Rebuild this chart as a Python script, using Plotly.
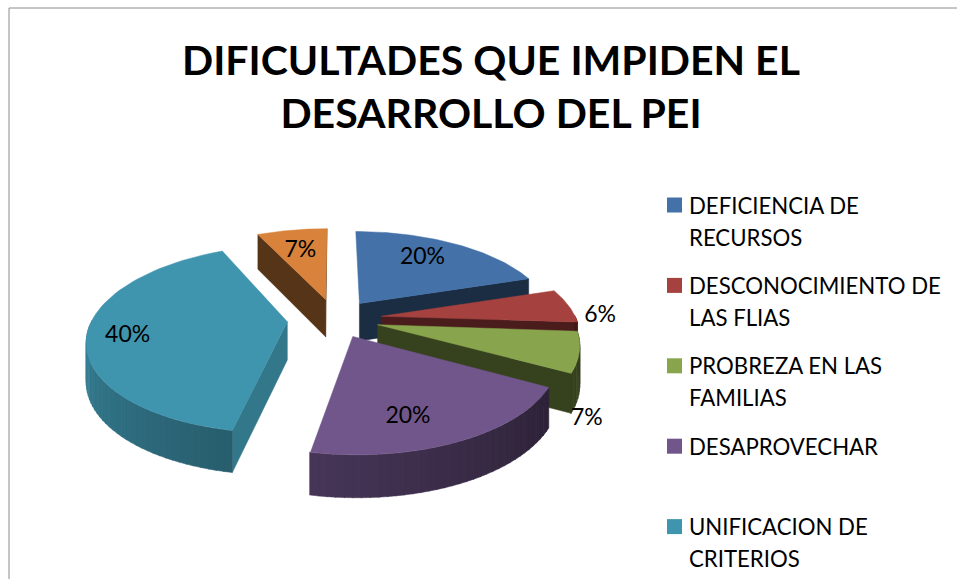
import math
import plotly.graph_objects as go

# ---- data ----
categories = ["DEFICIENCIA DE<br>RECURSOS", "DESCONOCIMIENTO DE<br>LAS FLIAS",
              "PROBREZA EN LAS<br>FAMILIAS", "DESAPROVECHAR", "UNIFICACION DE<br>CRITERIOS", ""]
values = [20, 6, 7, 20, 40, 7]
labels = ["20%", "6%", "7%", "20%", "40%", "7%"]
title = "DIFICULTADES QUE IMPIDEN EL<br>DESARROLLO DEL PEI"

# ---- style ----
colors = ["#4371A8", "#A5423F", "#88A44C", "#71568B", "#4095AE", "#D8823B"]
explode = [0.22, 0.24, 0.225, 0.207, 0.245, 0.23]
label_r = [0.70, 1.13, 1.22, 0.76, 0.80, 0.66]
label_turn = [-3, 7, 29, 8, -4, -1]
cut_shade = [0.40, 0.45, 0.40, 0.40, 0.80, 0.40]
draw_order = [5, 0, 4, 1, 2, 3]
FONT = "Lato"
CX, CY, RX, RY, DEPTH, PERSP = 335, 319, 195, 90, 38, 0.18


def project(theta, r, e, mid, h=0.0):
    x = r * math.sin(theta) + e * math.sin(mid)
    w = r * math.cos(theta) + e * math.cos(mid)
    f = 1 / (1 + PERSP * w)
    return CX + f * x * RX, CY - f * w * RY + math.sqrt(f) * h * DEPTH


def shade(color, k):
    rgb = [int(color[i:i + 2], 16) for i in (1, 3, 5)]
    return "rgb(%d,%d,%d)" % tuple(min(255, int(c * k)) for c in rgb)


def poly(fig, pts, color):
    xs, ys = zip(*pts)
    fig.add_trace(go.Scatter(x=list(xs) + [xs[0]], y=list(ys) + [ys[0]], mode="lines", fill="toself",
                             fillcolor=color, line=dict(color=color, width=0.5),
                             hoverinfo="skip", showlegend=False))


total = sum(values)
starts, acc = [], 0
for v in values:
    starts.append(acc / total * 2 * math.pi)
    acc += v

fig = go.Figure()
label_x, label_y = [0] * 6, [0] * 6
for i in draw_order:
    a0 = starts[i]
    a1 = a0 + values[i] / total * 2 * math.pi
    mid, e, col = (a0 + a1) / 2, explode[i], colors[i]
    # radial cut faces that look towards the viewer
    for ang, sgn in ((a0, -1), (a1, 1)):
        if sgn * math.sin(ang) > 0:
            poly(fig, [project(ang, 0, e, mid), project(ang, 1, e, mid),
                       project(ang, 1, e, mid, 1), project(ang, 0, e, mid, 1)], shade(col, cut_shade[i]))
    # outer rim, in shaded strips
    n = max(2, int((a1 - a0) / math.radians(2)))
    for k in range(n):
        t0 = a0 + (a1 - a0) * k / n
        t1 = a0 + (a1 - a0) * (k + 1.1) / n
        tm = (t0 + t1) / 2
        if math.cos(tm) < 0:
            s = min(0.95, max(0.4, 0.4 + 0.0032 * (math.degrees(tm) - 119)))
            poly(fig, [project(t0, 1, e, mid), project(t1, 1, e, mid),
                       project(t1, 1, e, mid, 1), project(t0, 1, e, mid, 1)], shade(col, s))
    # top face
    steps = 60
    top = [project(a0, 0, e, mid)] + [project(a0 + (a1 - a0) * k / steps, 1, e, mid) for k in range(steps + 1)]
    poly(fig, top, col)
    label_x[i], label_y[i] = project(mid + math.radians(label_turn[i]), label_r[i], e, mid)

fig.add_trace(go.Scatter(x=label_x, y=label_y, mode="text", text=labels, textposition="middle center",
                         textfont=dict(family=FONT, size=23, color="#000000"), hoverinfo="skip", showlegend=False))

# legend drawn row by row
LX, LY, LSTEP, LLINE = 674.5, 205, 80.4, 32
rows = [c for c in categories if c]
fig.add_trace(go.Scatter(x=[LX] * len(rows), y=[LY + j * LSTEP for j in range(len(rows))], mode="markers",
                         marker=dict(symbol="square", size=15, color=colors[:len(rows)]),
                         hoverinfo="skip", showlegend=False))
annotations = []
for j, c in enumerate(rows):
    for k, line in enumerate(c.split("<br>")):
        annotations.append(dict(x=688, y=LY + j * LSTEP + k * LLINE, xref="x", yref="y", xanchor="left",
                                yanchor="middle", align="left", text=line, showarrow=False, borderpad=0,
                                font=dict(family=FONT, size=22.2, color="#000000")))

fig.update_layout(
    width=957, height=579, margin=dict(l=0, r=0, t=0, b=0), paper_bgcolor="white", plot_bgcolor="white",
    xaxis=dict(range=[0, 957], visible=False, fixedrange=True),
    yaxis=dict(range=[579, 0], visible=False, fixedrange=True),
    title=dict(text=title, x=491 / 957, xanchor="center", y=1 - 75 / 579, yanchor="middle",
               font=dict(family=FONT, size=41, color="#000000", weight="bold")),
    annotations=annotations,
    shapes=[dict(type="line", xref="x", yref="y", x0=9, x1=9, y0=8, y1=579, line=dict(color="#8C8C8C", width=1)),
            dict(type="line", xref="x", yref="y", x0=9, x1=957, y0=8, y1=8, line=dict(color="#8C8C8C", width=1))],
)
fig.write_html("out.html", config={"displayModeBar": False}, post_script="document.body.style.margin='0';")
